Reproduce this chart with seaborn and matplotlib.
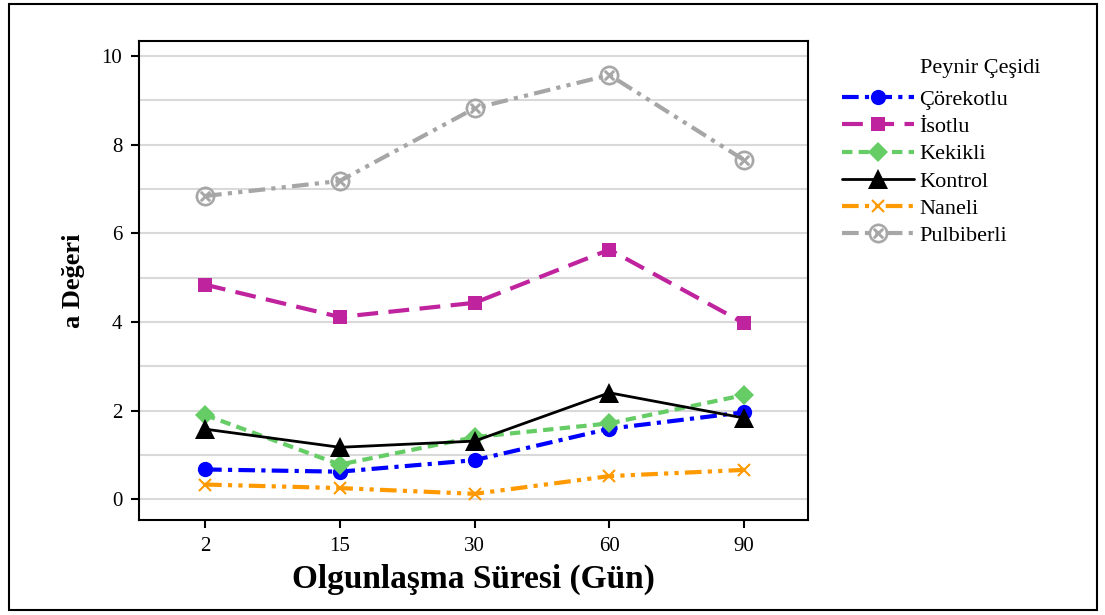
import matplotlib
matplotlib.use('Agg')
import matplotlib.pyplot as plt
from matplotlib.patches import Rectangle
import seaborn as sns
import pandas as pd

# days of ripening (x categories)
days = ["2", "15", "30", "60", "90"]
cheese_types = ["Çörekotlu", "İsotlu", "Kekikli", "Kontrol", "Naneli", "Pulbiberli"]

corekotlu = [0.67, 0.62, 0.88, 1.59, 1.96]
isotlu = [4.84, 4.11, 4.43, 5.63, 3.97]
kekikli = [1.90, 0.78, 1.40, 1.71, 2.35]
kontrol = [1.58, 1.17, 1.31, 2.40, 1.83]
naneli = [0.33, 0.25, 0.12, 0.52, 0.66]
pulbiberli = [6.84, 7.18, 8.82, 9.57, 7.65]

values = [corekotlu, isotlu, kekikli, kontrol, naneli, pulbiberli]

colors = ["#0000FF", "#C0239E", "#66CC66", "#000000", "#FF9900", "#A6A6A6"]
markers = ["o", "s", "D", "^", "x", "$\\otimes$"]
dash_list = [(4, 1.5, 1, 1.5), (5, 2.5), (2.5, 1.5), "", (4, 1.5, 1, 1.5, 1, 1.5), (4, 1.5, 1, 1.5, 1, 1.5)]
widths = [3, 3, 3, 2, 3, 3]
msizes = [11, 9.5, 10, 15, 9, 14]

rows = []
for name, vals in zip(cheese_types, values):
    for d, v in zip(days, vals):
        rows.append({"gun": d, "deger": v, "cesit": name})
df = pd.DataFrame(rows)

sns.set_style("white")
plt.rcParams['font.family'] = ['Liberation Serif', 'DejaVu Serif']
plt.rcParams['text.color'] = 'black'
plt.rcParams['axes.labelcolor'] = 'black'
plt.rcParams['xtick.color'] = 'black'
plt.rcParams['ytick.color'] = 'black'

fig = plt.figure(figsize=(11.05, 6.15), dpi=100)
ax = fig.add_axes([0.1258, 0.1545, 0.605, 0.779])

# seaborn won't mix filled and line markers, so swap them in afterwards
sns.lineplot(data=df, x="gun", y="deger", hue="cesit", style="cesit",
             hue_order=cheese_types, style_order=cheese_types,
             palette=dict(zip(cheese_types, colors)),
             markers=dict(zip(cheese_types, ["o", "s", "D", "^", "o", "o"])),
             dashes=dict(zip(cheese_types, dash_list)),
             sort=False, legend=False, ax=ax)

lines = ax.get_lines()
for ln, w, ms, c, m in zip(lines, widths, msizes, colors, markers):
    ln.set_marker(m)
    ln.set_linewidth(w)
    ln.set_markersize(ms)
    ln.set_markeredgecolor(c)
    ln.set_markerfacecolor(c)
    ln.set_markeredgewidth(0)
    if m == "x":
        ln.set_markeredgewidth(1.5)
    if m.startswith("$"):
        ln.set_markeredgewidth(0.3)

ax.set_xlim(-0.49, 4.47)
ax.set_ylim(-0.47, 10.34)
ax.set_yticks([0, 2, 4, 6, 8, 10])
ax.set_yticks(range(0, 11), minor=True)
ax.yaxis.grid(True, which="both", color="#D9D9D9", linewidth=1.5)
ax.set_axisbelow(True)
ax.tick_params(axis="both", which="major", direction="out", length=6, width=1.5,
               labelsize=15, left=True, bottom=True, pad=6)
ax.tick_params(axis="y", which="minor", length=0)
for s in ax.spines.values():
    s.set_color("black")
    s.set_linewidth(1.5)

ax.set_xlabel("Olgunlaşma Süresi (Gün)", fontsize=24, fontweight="bold", labelpad=6)
ax.set_ylabel("a Değeri", fontsize=19, fontweight="bold", labelpad=12)

# legend title drawn separately so it lines up with the labels, not the handles
ax.legend(lines, cheese_types, loc="upper left",
          bbox_to_anchor=(1.022, 0.9405), frameon=False, fontsize=16,
          handlelength=3.25, handletextpad=0.22, labelspacing=0.3)
fig.text(920 / 1105, 1 - 68 / 615, "Peynir Çeşidi", fontsize=16, ha="left", va="center")

fig.patches.append(Rectangle((0.008, 0.008), 0.985, 0.985, transform=fig.transFigure,
                             fill=False, edgecolor="black", linewidth=1.5))

fig.savefig("out.png", dpi=100)
